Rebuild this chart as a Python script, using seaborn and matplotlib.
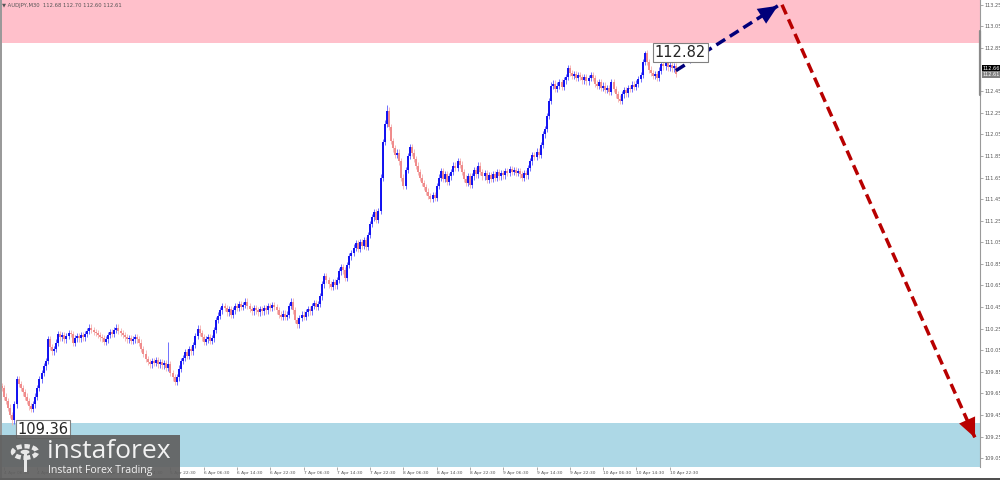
import numpy as np
import pandas as pd
import seaborn as sns
import matplotlib
matplotlib.use("Agg")
import matplotlib.pyplot as plt
from matplotlib.patches import Rectangle, Circle
from matplotlib import transforms

# AUDJPY M30 closes (one per candle)
closes = [
    109.70, 109.62, 109.58, 109.52, 109.45, 109.40, 109.55, 109.78, 109.74, 109.70,
    109.66, 109.62, 109.58, 109.53, 109.51, 109.55, 109.62, 109.70, 109.78, 109.84,
    109.90, 109.95, 110.15, 110.08, 110.04, 110.06, 110.12, 110.20, 110.17, 110.19,
    110.15, 110.18, 110.21, 110.20, 110.12, 110.16, 110.18, 110.16, 110.19, 110.17,
    110.20, 110.23, 110.26, 110.24, 110.22, 110.21, 110.19, 110.17, 110.16, 110.13,
    110.15, 110.19, 110.22, 110.20, 110.24, 110.26, 110.23, 110.21, 110.19, 110.17,
    110.15, 110.16, 110.14, 110.15, 110.17, 110.15, 110.12, 110.06, 110.02, 109.97,
    109.94, 109.92, 109.95, 109.93, 109.96, 109.92, 109.94, 109.91, 109.93, 109.89,
    109.92, 109.84, 109.80, 109.76, 109.80, 109.88, 109.95, 109.98, 110.03, 110.00,
    110.06, 110.04, 110.10, 110.18, 110.25, 110.21, 110.17, 110.13, 110.15, 110.17,
    110.14, 110.16, 110.24, 110.33, 110.37, 110.42, 110.46, 110.44, 110.40, 110.43,
    110.38, 110.42, 110.46, 110.44, 110.48, 110.45, 110.47, 110.50, 110.46, 110.43,
    110.41, 110.44, 110.42, 110.40, 110.43, 110.41, 110.44, 110.42, 110.46, 110.44,
    110.47, 110.45, 110.42, 110.38, 110.36, 110.39, 110.36, 110.38, 110.46, 110.50,
    110.42, 110.33, 110.29, 110.35, 110.38, 110.36, 110.40, 110.43, 110.41, 110.46,
    110.49, 110.45, 110.48, 110.55, 110.66, 110.74, 110.70, 110.66, 110.64, 110.68,
    110.65, 110.70, 110.78, 110.82, 110.79, 110.72, 110.84, 110.92, 110.95, 111.00,
    111.04, 110.99, 111.05, 111.02, 111.07, 111.01, 111.12, 111.22, 111.28, 111.33,
    111.26, 111.34, 111.65, 111.98, 112.15, 112.27, 112.12, 111.99, 111.92, 111.86,
    111.88, 111.80, 111.65, 111.57, 111.72, 111.85, 111.93, 111.88, 111.82, 111.76,
    111.70, 111.65, 111.60, 111.56, 111.52, 111.48, 111.45, 111.49, 111.46, 111.57,
    111.65, 111.71, 111.64, 111.68, 111.61, 111.66, 111.70, 111.76, 111.74, 111.80,
    111.77, 111.70, 111.64, 111.60, 111.66, 111.58, 111.66, 111.72, 111.68, 111.76,
    111.70, 111.66, 111.69, 111.63, 111.67, 111.64, 111.68, 111.65, 111.70, 111.66,
    111.69, 111.67, 111.71, 111.69, 111.73, 111.70, 111.72, 111.69, 111.71, 111.68,
    111.65, 111.69, 111.67, 111.74, 111.80, 111.86, 111.84, 111.89, 111.86, 111.95,
    112.05, 112.10, 112.22, 112.36, 112.50, 112.52, 112.47, 112.50, 112.53, 112.49,
    112.55, 112.58, 112.66, 112.62, 112.59, 112.61, 112.57, 112.60, 112.58, 112.55,
    112.58, 112.54, 112.57, 112.60, 112.57, 112.52, 112.50, 112.53, 112.48, 112.50,
    112.46, 112.48, 112.44, 112.53, 112.47, 112.42, 112.38, 112.36, 112.42, 112.46,
    112.43, 112.48, 112.47, 112.51, 112.49, 112.52, 112.56, 112.60, 112.72, 112.80,
    112.72, 112.65, 112.62, 112.59, 112.61, 112.57, 112.64, 112.70, 112.68, 112.71,
    112.67, 112.69, 112.66, 112.68, 112.61,
]
first_open = 109.72
# extreme wicks that stand out on the chart
high_marks = {185: 112.32, 309: 112.82, 80: 110.13}
low_marks = {5: 109.36, 83: 109.73, 297: 112.33}

time_labels = ["4 Apr 06:30", "4 Apr 14:30", "4 Apr 22:30", "5 Apr 06:30", "5 Apr 14:30",
               "5 Apr 22:30", "6 Apr 06:30", "6 Apr 14:30", "6 Apr 22:30", "7 Apr 06:30",
               "7 Apr 14:30", "7 Apr 22:30", "8 Apr 06:30", "8 Apr 14:30", "8 Apr 22:30",
               "9 Apr 06:30", "9 Apr 14:30", "9 Apr 22:30", "10 Apr 06:30", "10 Apr 14:30",
               "10 Apr 22:30"]
price_ticks = [113.25, 113.05, 112.85, 112.45, 112.25, 112.05, 111.85, 111.65, 111.45,
               111.25, 111.05, 110.85, 110.65, 110.45, 110.25, 110.05, 109.85, 109.65,
               109.45, 109.25, 109.05]

# resistance / support zones
resist_zone = (112.90, 113.40)
support_zone = (108.90, 109.38)

# forecast paths (candle index, price)
up_x, up_y = [324, 373], [112.64, 113.24]
down_x, down_y = [375, 467.8], [113.25, 109.24]

bid, ask = 112.61, 112.66

df = pd.DataFrame({"close": closes})
df["open"] = [first_open] + closes[:-1]
df["high"] = df[["open", "close"]].max(axis=1) + 0.03
df["low"] = df[["open", "close"]].min(axis=1) - 0.03
for k, v in high_marks.items():
    df.loc[k, "high"] = v
for k, v in low_marks.items():
    df.loc[k, "low"] = v
df["bull"] = df["close"] >= df["open"]
idx = np.arange(len(df))

sns.set_theme(style="white")
plt.rcParams["font.family"] = ["DejaVu Sans"]

fig = plt.figure(figsize=(10, 4.8), dpi=100)
fig.patch.set_facecolor("white")
ax = fig.add_axes([0.001, 13 / 480, 0.979, 467 / 480])
ax.set_facecolor("white")

ax.axhspan(*resist_zone, color="#ffc0cb", lw=0, zorder=0)
ax.axhspan(*support_zone, color="#add8e6", lw=0, zorder=0)

wick_c = np.where(df["bull"], "#5a5aff", "#f4b0b0")
body_c = np.where(df["bull"], "#1010f0", "#f08a8a")
ax.vlines(idx, df["low"], df["high"], colors=wick_c, lw=0.6, zorder=2)
ax.vlines(idx, df[["open", "close"]].min(axis=1), df[["open", "close"]].max(axis=1),
          colors=body_c, lw=1.4, zorder=3)


def dashed_arrow(xs, ys, color):
    ax.plot(xs, ys, color=color, lw=2.5, ls=(0, (3.0, 1.6)), zorder=5,
            dash_capstyle="butt")
    dx, dy = xs[1] - xs[0], ys[1] - ys[0]
    ax.annotate("", xy=(xs[1], ys[1]), xytext=(xs[1] - dx * 0.01, ys[1] - dy * 0.01),
                arrowprops=dict(arrowstyle="-|>,head_length=1.0,head_width=0.45",
                                color=color, lw=0, mutation_scale=14,
                                shrinkA=0, shrinkB=0), zorder=6)


dashed_arrow(up_x, up_y, "#00007a")
dashed_arrow(down_x, down_y, "#b80000")

# extreme labels
box = dict(boxstyle="square,pad=0.12", fc="white", ec="#808080", lw=0.8)
ax.text(313.8, 112.81, "112.82", fontsize=10.5, ha="left", va="center", bbox=box, zorder=7)
ax.text(7.4, 109.32, "109.36", fontsize=10.5, ha="left", va="center", bbox=box, zorder=7)

ax.set_xlim(-0.48, 470.2)
ax.set_ylim(108.969, 113.294)

for s in ["top", "left", "bottom"]:
    ax.spines[s].set_visible(False)
ax.spines["right"].set_color("#9a9a9a")
ax.spines["right"].set_linewidth(0.8)

ax.yaxis.tick_right()
ax.set_yticks(price_ticks)
ax.set_yticklabels([f"{p:.2f}" for p in price_ticks])
ax.tick_params(axis="y", right=True, length=2, width=0.5, color="#888", pad=1,
               labelsize=3.6, labelcolor="#555")

ax.set_xticks([1 + 16 * k for k in range(len(time_labels))])
ax.set_xticklabels(time_labels, ha="left")
ax.tick_params(axis="x", bottom=True, length=2, width=0.5, color="#888", pad=1,
               labelsize=3.2, labelcolor="#555")

# price markers on the axis
trans = transforms.blended_transform_factory(ax.transAxes, ax.transData)
ax.plot([1.0, 1.0], [113.01, 112.41], transform=trans, color="#8a8a8a", lw=1.6,
        clip_on=False, zorder=8)
ax.text(1.003, ask, f"{ask:.2f}", transform=trans, fontsize=3.6, color="white", va="center",
        ha="left", bbox=dict(boxstyle="square,pad=0.15", fc="black", ec="none"))
ax.text(1.003, bid - 0.005, f"{bid:.2f}", transform=trans, fontsize=3.6, color="white",
        va="center", ha="left", bbox=dict(boxstyle="square,pad=0.15", fc="#808080", ec="none"))

# title line
fig.text(0.002, 1 - 5 / 480, "\u25bc AUDJPY,M30  112.68 112.70 112.60 112.61", fontsize=3.8,
         color="#555", va="center", ha="left")

# left frame and bottom border
fig.add_artist(Rectangle((0, 0), 0.0015, 1, transform=fig.transFigure, color="#9a9a9a", lw=0))
fig.add_artist(Rectangle((0, 0), 1, 2.5 / 480, transform=fig.transFigure, color="#505050", lw=0))

# watermark logo
fig.add_artist(Rectangle((0, 0), 180 / 1000, 45 / 480, transform=fig.transFigure,
                         color="#606060", alpha=0.92, lw=0, zorder=10))
fig.add_artist(Circle((25 / 1000, 28 / 480), 0.012, transform=fig.transFigure,
                      fc="none", ec="#e8e8e8", lw=3.2, ls=(0, (1.2, 0.6)), zorder=11))
fig.add_artist(Circle((25 / 1000, 28 / 480), 0.0045, transform=fig.transFigure,
                      fc="#e8e8e8", ec="none", zorder=11))
fig.add_artist(Rectangle((23.5 / 1000, 8 / 480), 3 / 1000, 18 / 480, transform=fig.transFigure,
                         color="#e8e8e8", lw=0, zorder=11))
fig.text(47 / 1000, 29 / 480, "instaforex", fontsize=19, color="#f2f2f2", family="Open Sans",
         va="center", ha="left", zorder=12)
fig.text(48 / 1000, 9 / 480, "Instant Forex Trading", fontsize=7.6, color="#f2f2f2",
         family="Open Sans", va="center", ha="left", zorder=12)

fig.savefig("out.png", dpi=100, facecolor="white")
